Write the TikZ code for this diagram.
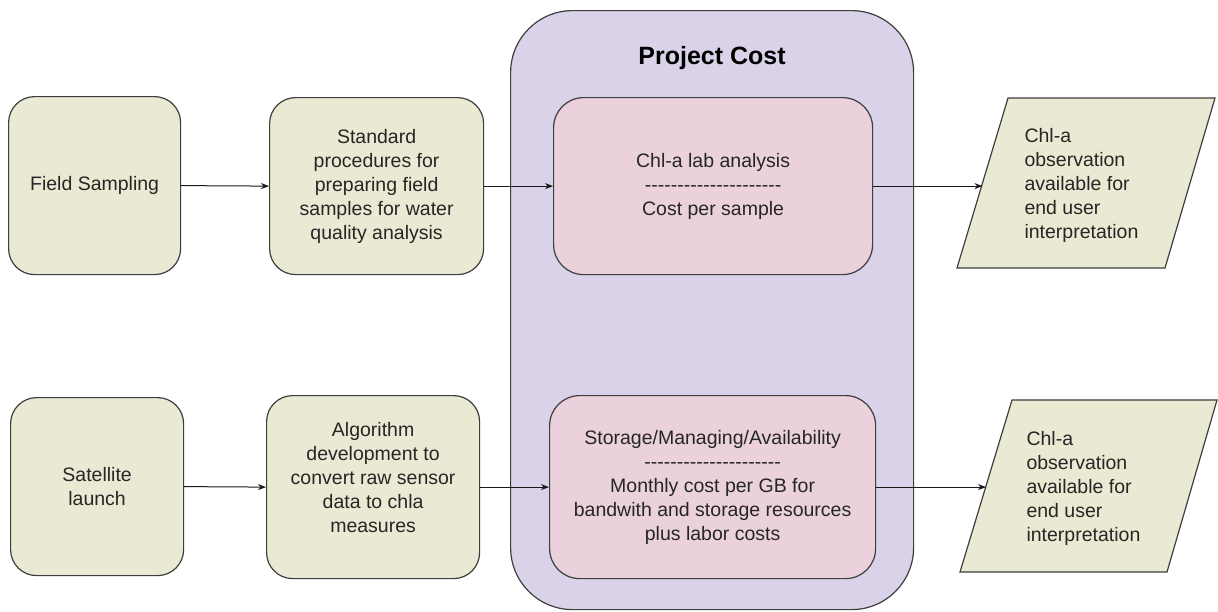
\documentclass[tikz,border=0pt]{standalone}
\usepackage{fontspec}
\setmainfont{Liberation Sans}
\usetikzlibrary{arrows.meta,calc}

\definecolor{stepfill}{RGB}{234,233,211}
\definecolor{costfill}{RGB}{217,210,233}
\definecolor{itemfill}{RGB}{234,209,220}
\definecolor{rim}{RGB}{62,62,62}

% a row of plain hyphens, kept apart so they are not joined into dashes
\newcommand\hy{-\kern0pt}
\newcommand\dashline{\hy\hy\hy\hy\hy\hy\hy\hy\hy\hy\hy\hy\hy\hy\hy\hy\hy\hy\hy\hy\hy}

\begin{document}
\begin{tikzpicture}[x=1pt,y=-1pt,
  boxtext/.style={font=\fontsize{19.5}{24}\selectfont, text=black!85},
  stepbox/.style={boxtext, draw=rim, line width=1.2pt, fill=stepfill, rounded corners=26pt,
    anchor=north west, align=center, inner sep=0pt},
  itembox/.style={stepbox, fill=itemfill, rounded corners=30pt},
  costbox/.style={draw=rim, line width=1.2pt, fill=costfill, rounded corners=62pt,
    anchor=north west, inner sep=0pt},
  outbox/.style={draw=rim, line width=1.2pt, fill=stepfill},
  flow/.style={draw=black!90, line width=1pt, -{Stealth[length=8pt,width=6pt]}}
]
\useasboundingbox (0,0) rectangle (1218,611);

% cost frame
\node[costbox, minimum width=403pt, minimum height=599pt] (cost) at (510,10) {};
\node[font=\bfseries\fontsize{25}{28}\selectfont] (costtitle) at (712,58) {Project Cost};

% field sampling row
\node[stepbox, minimum width=172pt, minimum height=178pt] (field) at (8,96) {Field Sampling};
\node[stepbox, minimum width=214pt, minimum height=177pt] (prep) at (269,97)
  {Standard\\procedures for\\preparing field\\samples for water\\quality analysis};
\node[itembox, minimum width=319pt, minimum height=177pt] (lab) at (553,97)
  {Chl-a lab analysis\\\dashline\\Cost per sample};

% satellite row
\node[stepbox, minimum width=173pt, minimum height=178pt] (sat) at (10,397) {Satellite\\launch};
\node[stepbox, minimum width=213pt, minimum height=183pt] (algo) at (266,395) {};
\node[boxtext, align=center] (algotext) at ($(algo.center)+(0,-10)$)
  {Algorithm\\development to\\convert raw sensor\\data to chla\\measures};
\node[itembox, minimum width=326pt, minimum height=183pt] (store) at (549,395)
  {Storage/Managing/Availability\\\dashline\\Monthly cost per GB for\\bandwith and storage resources\\plus labor costs};

% outputs
\draw[outbox] (1008,98) coordinate (outAa) -- (1215,98) -- (1165,268) -- (957,268) coordinate (outAd) -- cycle;
\coordinate (outAin) at ($(outAa)!0.5!(outAd)$);
\node[boxtext, anchor=west, align=left] (outAtext) at (1021,185)
  {Chl-a\\observation\\available for\\end user\\interpretation};

\draw[outbox] (1012,400) coordinate (outBa) -- (1217,400) -- (1167,572) -- (960,572) coordinate (outBd) -- cycle;
\coordinate (outBin) at ($(outBa)!0.5!(outBd)$);
\node[boxtext, anchor=west, align=left] (outBtext) at (1023,488)
  {Chl-a\\observation\\available for\\end user\\interpretation};

% connectors
\draw[flow] (field.east) -- (prep.west);
\draw[flow] (prep.east) -- (lab.west);
\draw[flow] (lab.east) -- (lab.east -| outAin);
\draw[flow] (sat.east) -- (algo.west);
\draw[flow] (algo.east) -- (store.west);
\draw[flow] (store.east) -- (store.east -| outBin);
\end{tikzpicture}
\end{document}
